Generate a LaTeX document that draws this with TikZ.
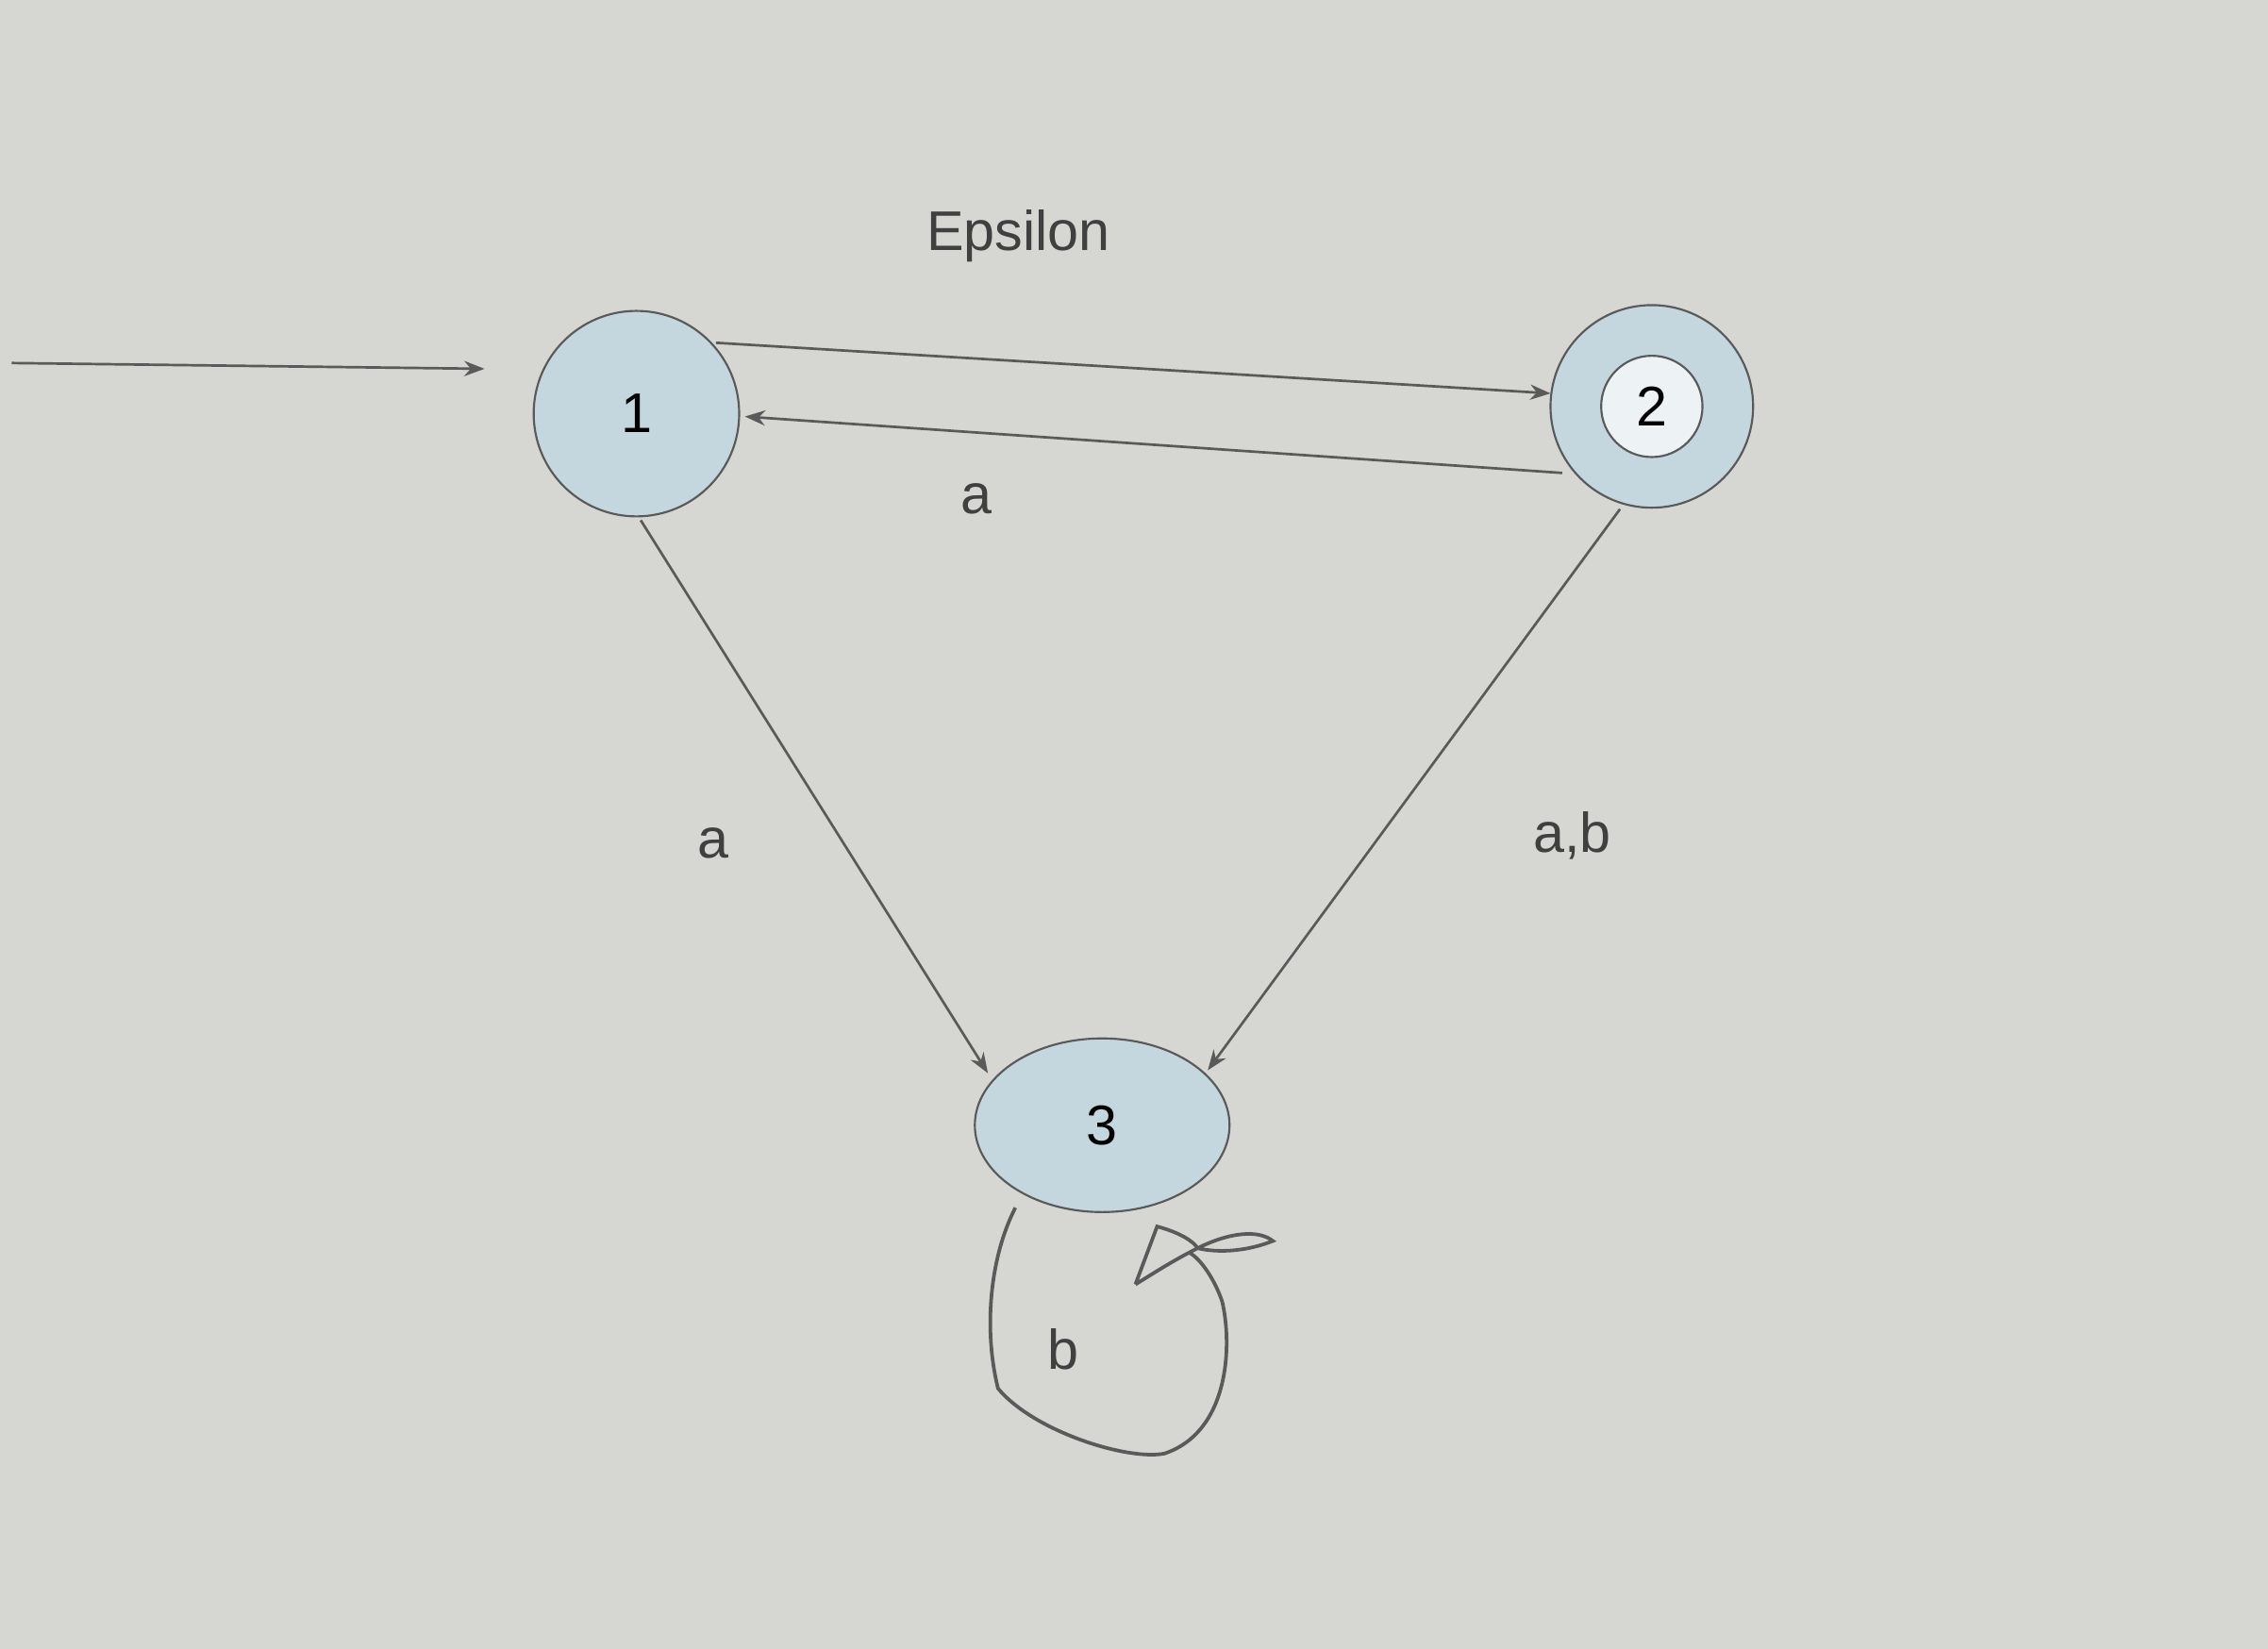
\documentclass[tikz,border=0pt]{standalone}
\usepackage{fontspec}
\setmainfont{Liberation Sans}
\usetikzlibrary{arrows.meta,shapes.geometric}
\definecolor{bg}{RGB}{214,214,210}
\definecolor{st}{RGB}{196,214,222}
\definecolor{ln}{RGB}{90,90,90}
\begin{document}
\begin{tikzpicture}[x=0.01cm,y=-0.01cm,
  state/.style={draw=ln,fill=st,circle,minimum size=1.42cm,inner sep=0pt,font=\fontsize{11}{13}\selectfont},
  edge/.style={draw=ln,line width=0.5pt,-{Stealth[length=4pt,width=3pt]}},
  lbl/.style={font=\fontsize{11}{13}\selectfont,text=black!75}]
\fill[bg] (0,0) rectangle (1568,1140);
\useasboundingbox (0,0) rectangle (1568,1140);
\node[state] (n1) at (440,286) {1};
\node[state,minimum size=1.40cm] (n2) at (1142,281) {};
\node[draw=ln,fill=white!70!st,circle,minimum size=0.7cm,inner sep=0pt,font=\fontsize{11}{13}\selectfont] (n2i) at (1142,281) {2};
\node[state,ellipse,minimum width=1.76cm,minimum height=1.2cm] (n3) at (762,778) {3};
\coordinate (s) at (8,251);
\draw[edge] (s) -- (335,255);
\draw[edge] (495,237) -- (1072,272);
\draw[edge] (1080,327) -- (515,288);
\draw[edge] (n1.south) ++(3,2) -- (683,742);
\draw[edge] (1120,352) -- (835,740);
\node[lbl] at (704,163) {Epsilon};
\node[lbl] at (675,345) {a};
\node[lbl] at (493,583) {a};
\node[lbl] at (1087,578) {a,b};
\node[lbl] at (735,933) {b};
\draw[ln,line width=0.7pt] (702,835) .. controls (684,870) and (680,920) .. (690,960)
  .. controls (715,990) and (780,1010) .. (805,1005)
  .. controls (850,990) and (852,930) .. (845,900)
  .. controls (840,885) and (830,870) .. (822,866);
\draw[ln,line width=0.7pt] (785,888) -- (800,848) .. controls (815,852) and (825,858) .. (828,863)
  .. controls (850,852) and (870,850) .. (880,858) .. controls (860,866) and (840,866) .. (828,863)
  .. controls (810,872) and (795,882) .. (785,888);
\end{tikzpicture}
\end{document}
